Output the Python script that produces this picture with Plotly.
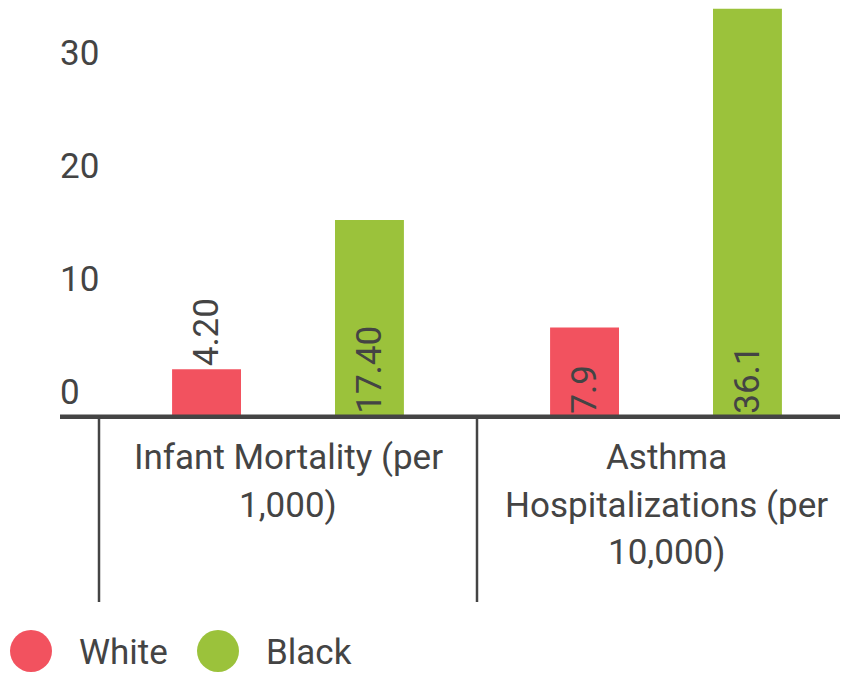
import plotly.graph_objects as go

# ---- data ----
categories = ["Infant Mortality (per 1,000)", "Asthma Hospitalizations (per 10,000)"]
category_lines = [["Infant Mortality (per", "1,000)"],
                  ["Asthma", "Hospitalizations (per", "10,000)"]]
series_names = ["White", "Black"]
white_values = [4.20, 7.9]
black_values = [17.40, 36.1]
white_labels = ["4.20", "7.9"]
black_labels = ["17.40", "36.1"]
y_tick_values = [0, 10, 20, 30]
y_tick_labels = ["0", "10", "20", "30"]

# ---- styling / layout constants (figure pixels; page adds 8px body margin) ----
W, H = 840, 665
MARGIN_B = 254
PLOT_H = H - MARGIN_B
PLOT_X0 = 91
CAT_PX = 378
PX_PER_UNIT = 11.3
Y_MIN = -0.2
X_RANGE = [-0.5, -0.5 + (W - PLOT_X0) / CAT_PX]
Y_RANGE = [Y_MIN, Y_MIN + PLOT_H / PX_PER_UNIT]
BASE_PX = PLOT_H + Y_MIN * PX_PER_UNIT      # figure y of value 0
TEXT = "#444444"
FONT = "Roboto"
FS = 35
colors = {"White": "#F2525F", "Black": "#9BC23B"}
text_positions = {"White": ["outside", "inside"], "Black": ["inside", "inside"]}

x_dom0 = PLOT_X0 / W


def xpaper(v):
    return x_dom0 + (v - X_RANGE[0]) / (X_RANGE[1] - X_RANGE[0]) * (1 - x_dom0)


def ypaper(py):
    return (PLOT_H - py) / PLOT_H


fig = go.Figure()
for name, vals, labs in [("White", white_values, white_labels),
                         ("Black", black_values, black_labels)]:
    fig.add_trace(go.Bar(
        x=categories, y=vals, name=name, text=labs,
        marker=dict(color=colors[name], line=dict(width=0)),
        textposition=text_positions[name], textangle=-90, insidetextanchor="start",
        textfont=dict(family=FONT, size=FS, color=TEXT),
        insidetextfont=dict(family=FONT, size=FS, color=TEXT),
        outsidetextfont=dict(family=FONT, size=FS, color=TEXT),
        constraintext="none",
        showlegend=False, cliponaxis=False,
    ))

shapes = []
# baseline
shapes.append(dict(type="line", xref="paper", yref="paper", x0=52 / W, x1=1,
                   y0=ypaper(BASE_PX), y1=ypaper(BASE_PX),
                   line=dict(color=TEXT, width=4.5), layer="above"))
# category dividers
for b in [-0.5, 0.5]:
    shapes.append(dict(type="line", xref="paper", yref="paper", x0=xpaper(b), x1=xpaper(b),
                       y0=ypaper(BASE_PX + 2), y1=ypaper(594), line=dict(color=TEXT, width=2.5)))
# legend circles + names
legend_items = [(23, 69), (210, 256)]
annotations = []
for (cx, tx), name in zip(legend_items, series_names):
    r = 21
    shapes.append(dict(type="circle", xref="paper", yref="paper",
                       x0=(cx - r) / W, x1=(cx + r) / W,
                       y0=ypaper(643 + r), y1=ypaper(643 - r),
                       fillcolor=colors[name], line=dict(width=0)))
    annotations.append(dict(text=name, xref="paper", yref="paper", x=tx / W, y=ypaper(644),
                            xanchor="left", yanchor="middle", showarrow=False,
                            font=dict(family=FONT, size=FS, color=TEXT)))

# category labels
for i, lines in enumerate(category_lines):
    for j, line in enumerate(lines):
        annotations.append(dict(text=line, xref="x", yref="paper", x=i, y=ypaper(BASE_PX),
                                xanchor="center", yanchor="middle", yshift=-(41 + 47.5 * j),
                                showarrow=False,
                                font=dict(family=FONT, size=FS, color=TEXT)))

fig.update_layout(
    width=W, height=H,
    margin=dict(l=0, r=0, t=0, b=MARGIN_B, pad=0),
    paper_bgcolor="white", plot_bgcolor="white",
    barmode="group", bargap=0.138, bargroupgap=0.577,
    shapes=shapes, annotations=annotations,
    xaxis=dict(domain=[x_dom0, 1], range=X_RANGE, type="category",
               showticklabels=False, showgrid=False, zeroline=False, showline=False,
               ticks="", automargin=False),
    yaxis=dict(anchor="free", position=48 / W, range=Y_RANGE,
               tickvals=y_tick_values, ticktext=y_tick_labels,
               ticklabelposition="inside top", ticklabelshift=0,
               ticklabeloverflow="allow",
               tickfont=dict(family=FONT, size=FS, color=TEXT),
               showgrid=False, zeroline=False, showline=False, ticks="",
               automargin=False),
    font=dict(family=FONT, color=TEXT),
)

fig.write_html("out.html")
